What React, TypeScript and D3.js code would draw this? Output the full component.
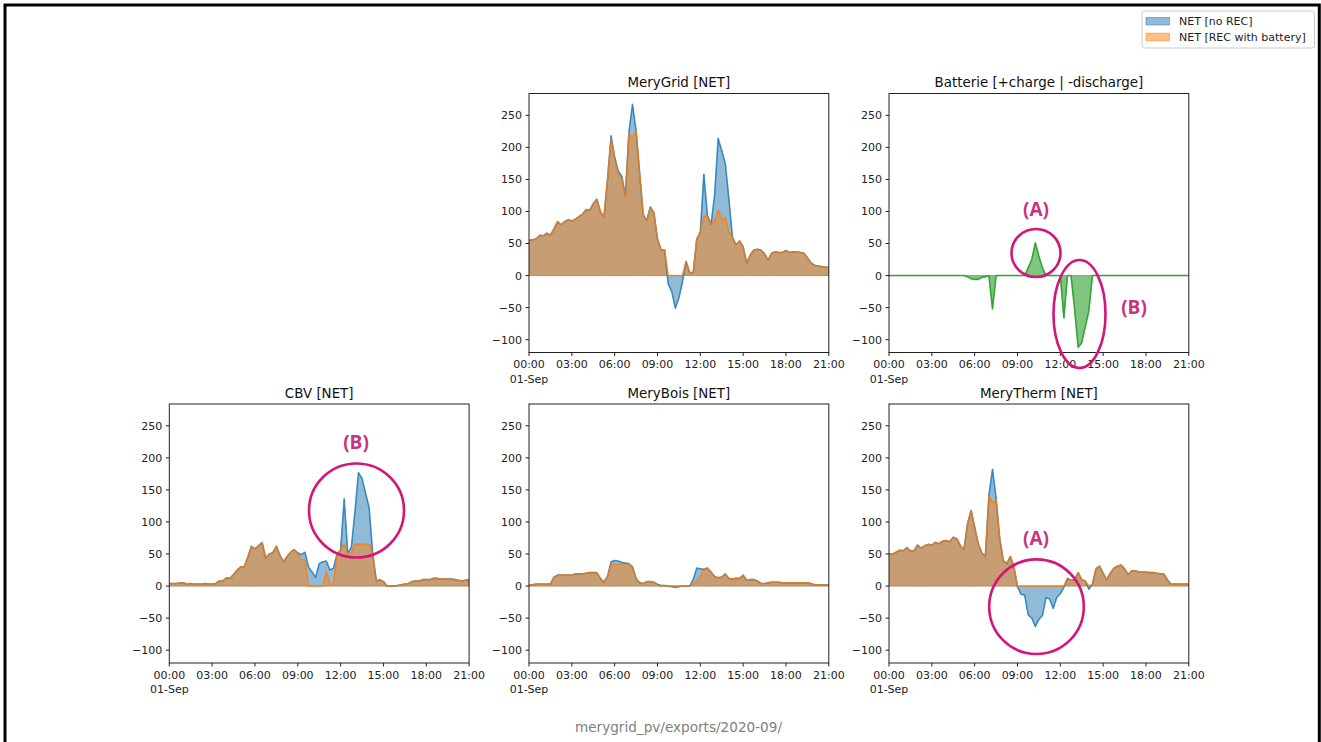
import React from 'react';
import * as d3 from 'd3';

// 15-minute samples, 01-Sep 00:00 .. 21:00
const times = d3.range(85).map((i) => new Date(Date.UTC(2020, 8, 1, 0, i * 15)));

const gridNoRec = [
  55, 56, 57, 63, 62, 66, 63, 73, 84, 79, 84, 87,
  85, 88, 92, 96, 103, 102, 112, 119, 100, 91, 150, 218,
  185, 163, 155, 125, 224, 267, 226, 160, 95, 86, 107, 98,
  57, 40, 40, -13, -25, -51, -35, -10, 22, 5, 4, 57,
  68, 158, 94, 80, 125, 214, 195, 175, 120, 60, 48, 54,
  45, 19, 32, 40, 41, 40, 34, 24, 35, 37, 36, 36,
  39, 36, 37, 37, 36, 35, 28, 20, 16, 15, 14, 13,
  13,
];
const gridRec = [
  55, 56, 57, 63, 62, 66, 63, 73, 84, 79, 84, 87,
  85, 88, 92, 96, 103, 102, 112, 119, 100, 91, 150, 213,
  180, 158, 150, 122, 222, 215, 226, 160, 95, 86, 107, 98,
  57, 40, 40, 0, 0, 0, 0, 0, 22, 5, 4, 57,
  68, 92, 93, 80, 85, 102, 88, 91, 68, 60, 48, 54,
  45, 19, 32, 40, 41, 40, 34, 24, 35, 37, 36, 36,
  39, 36, 37, 37, 36, 35, 28, 20, 16, 15, 14, 13,
  13,
];
const battery = [
  0, 0, 0, 0, 0, 0, 0, 0, 0, 0, 0, 0,
  0, 0, 0, 0, 0, 0, 0, 0, 0, 0, -2, -5,
  -6, -6, -3, -2, 0, -52, 0, 0, 0, 0, 0, 0,
  0, 0, 0, 12, 25, 51, 30, 12, 0, 0, 0, 0,
  0, -66, 0, 0, -52, -112, -105, -80, -55, 0, 0, 0,
  0, 0, 0, 0, 0, 0, 0, 0, 0, 0, 0, 0,
  0, 0, 0, 0, 0, 0, 0, 0, 0, 0, 0, 0,
  0,
];
const cbvNoRec = [
  4, 4, 4, 5, 5, 3, 4, 3, 3, 3, 4, 3,
  3, 4, 8, 8, 13, 12, 18, 25, 30, 30, 45, 62,
  58, 63, 68, 44, 50, 52, 62, 48, 38, 46, 53, 57,
  52, 49, 53, 30, 22, 14, 35, 38, 39, 25, 28, 50,
  56, 136, 52, 60, 115, 177, 168, 145, 122, 50, 8, 10,
  7, 0, 0, 0, 1, 2, 3, 4, 7, 8, 8, 10,
  10, 10, 12, 12, 11, 11, 11, 11, 10, 9, 8, 9,
  10,
];
const cbvRec = [
  4, 4, 4, 5, 5, 3, 4, 3, 3, 3, 4, 3,
  3, 4, 8, 8, 13, 12, 18, 25, 30, 30, 45, 62,
  58, 63, 68, 44, 50, 52, 62, 48, 38, 46, 53, 57,
  50, 41, 41, 0, 0, 0, 0, 0, 23, 3, 3, 50,
  56, 66, 50, 52, 65, 65, 65, 65, 65, 50, 8, 10,
  7, 0, 0, 0, 1, 2, 3, 4, 7, 8, 8, 10,
  10, 10, 12, 12, 11, 11, 11, 11, 10, 9, 8, 9,
  10,
];
const boisNoRec = [
  2, 2, 3, 3, 3, 3, 3, 14, 17, 17, 17, 17,
  17, 19, 19, 19, 20, 21, 21, 21, 12, 6, 15, 38,
  40, 39, 37, 36, 35, 30, 12, 5, 4, 7, 7, 6,
  3, 1, 1, 0, -1, -2, -1, 0, 0, 0, 10, 28,
  27, 26, 28, 22, 15, 13, 14, 19, 12, 11, 12, 12,
  17, 9, 10, 10, 8, 4, 4, 5, 6, 6, 6, 5,
  5, 5, 5, 5, 5, 5, 5, 4, 2, 2, 2, 2,
  2,
];
const boisRec = [
  2, 2, 3, 3, 3, 3, 3, 14, 17, 17, 17, 17,
  17, 19, 19, 19, 20, 21, 21, 21, 12, 6, 15, 34,
  34, 34, 34, 34, 34, 30, 12, 5, 4, 7, 7, 6,
  1, 0, 0, 0, 0, 0, 0, 0, 0, 0, 3, 8,
  15, 26, 28, 22, 15, 13, 14, 19, 12, 11, 12, 12,
  17, 9, 10, 10, 8, 4, 4, 5, 6, 6, 6, 5,
  5, 5, 5, 5, 5, 5, 5, 4, 2, 2, 2, 2,
  2,
];
const thermNoRec = [
  50, 50, 53, 56, 55, 60, 55, 55, 64, 59, 63, 65,
  64, 68, 66, 70, 71, 69, 76, 74, 63, 57, 97, 118,
  92, 66, 52, 46, 142, 182, 138, 75, 40, 35, 46, 30,
  -1, -13, -14, -45, -50, -63, -52, -46, -18, -20, -35, -18,
  -12, -2, 12, 9, 10, 21, 10, 8, -5, 3, 27, 31,
  20, 10, 20, 28, 31, 33, 27, 18, 24, 24, 22, 22,
  22, 21, 21, 20, 19, 19, 10, 3, 3, 3, 3, 3,
  3,
];
const thermRec = [
  50, 50, 53, 56, 55, 60, 55, 55, 64, 59, 63, 65,
  64, 68, 66, 70, 71, 69, 76, 74, 63, 57, 97, 118,
  92, 66, 52, 46, 140, 130, 135, 75, 40, 35, 46, 30,
  0, 0, 0, 0, 0, 0, 0, 0, 0, 0, 0, 0,
  0, 0, 12, 9, 10, 21, 10, 8, 0, 3, 27, 31,
  20, 10, 20, 28, 31, 33, 27, 18, 24, 24, 22, 22,
  22, 21, 21, 20, 19, 19, 10, 3, 3, 3, 3, 3,
  3,
];

const yTicks = [-100, -50, 0, 50, 100, 150, 200, 250];
const xTickHours = [0, 3, 6, 9, 12, 15, 18, 21];
const legendLabels = ['NET [no REC]', 'NET [REC with battery]'];

const BLUE = '#1f77b4';
const ORANGE = '#ff7f0e';
const GREEN = '#2ca02c';
const MAG = '#d4157a';
const MAG_TXT = '#c5367f';
const FONT = '"DejaVu Sans", Verdana, sans-serif';

const COLS = [169.3, 529, 889];
const ROWS = [93.5, 404];
const PW = 299.8;
const PH = 259;

type Series = { values: number[]; color: string; fillOpacity: number; lineOpacity: number };

type PanelDef = { title: string; col: number; row: number; series: Series[] };

const panels: PanelDef[] = [
  {
    title: 'MeryGrid [NET]', col: 1, row: 0,
    series: [
      { values: gridNoRec, color: BLUE, fillOpacity: 0.5, lineOpacity: 0.7 },
      { values: gridRec, color: ORANGE, fillOpacity: 0.5, lineOpacity: 0.7 },
    ],
  },
  {
    title: 'Batterie [+charge | -discharge]', col: 2, row: 0,
    series: [{ values: battery, color: GREEN, fillOpacity: 0.6, lineOpacity: 0.85 }],
  },
  {
    title: 'CBV [NET]', col: 0, row: 1,
    series: [
      { values: cbvNoRec, color: BLUE, fillOpacity: 0.5, lineOpacity: 0.7 },
      { values: cbvRec, color: ORANGE, fillOpacity: 0.5, lineOpacity: 0.7 },
    ],
  },
  {
    title: 'MeryBois [NET]', col: 1, row: 1,
    series: [
      { values: boisNoRec, color: BLUE, fillOpacity: 0.5, lineOpacity: 0.7 },
      { values: boisRec, color: ORANGE, fillOpacity: 0.5, lineOpacity: 0.7 },
    ],
  },
  {
    title: 'MeryTherm [NET]', col: 2, row: 1,
    series: [
      { values: thermNoRec, color: BLUE, fillOpacity: 0.5, lineOpacity: 0.7 },
      { values: thermRec, color: ORANGE, fillOpacity: 0.5, lineOpacity: 0.7 },
    ],
  },
];

function Panel({ def, idx }: { def: PanelDef; idx: number }) {
  const x0 = COLS[def.col];
  const y0 = ROWS[def.row];
  const x = d3.scaleUtc().domain([times[0], times[times.length - 1]]).range([x0, x0 + PW]);
  const y = d3.scaleLinear().domain([-120, 284]).range([y0 + PH, y0]);
  const area = d3
    .area<number>()
    .x((_, i) => x(times[i]))
    .y0(y(0))
    .y1((v) => y(v));
  const line = d3
    .line<number>()
    .x((_, i) => x(times[i]))
    .y((v) => y(v));
  const clipId = `clip${idx}`;
  const fmt = d3.utcFormat('%H:%M');
  return (
    <g>
      <defs>
        <clipPath id={clipId}>
          <rect x={x0} y={y0} width={PW} height={PH} />
        </clipPath>
      </defs>
      <g clipPath={`url(#${clipId})`}>
        {def.series.map((s, k) => (
          <path
            key={'a' + k}
            d={area(s.values) || ''}
            fill={s.color}
            fillOpacity={s.fillOpacity}
            stroke={s.color}
            strokeOpacity={s.fillOpacity}
            strokeWidth={1}
          />
        ))}
        {def.series.map((s, k) => (
          <path
            key={'l' + k}
            d={line(s.values) || ''}
            fill="none"
            stroke={s.color}
            strokeOpacity={s.lineOpacity}
            strokeWidth={1.6}
            strokeLinejoin="round"
          />
        ))}
      </g>
      <rect x={x0} y={y0} width={PW} height={PH} fill="none" stroke="#222" strokeWidth={1} />
      {yTicks.map((t) => (
        <g key={'y' + t}>
          <line x1={x0 - 3.5} x2={x0} y1={y(t)} y2={y(t)} stroke="#222" strokeWidth={1} />
          <text x={x0 - 7} y={y(t)} dy="0.36em" textAnchor="end" fontSize={11} fill="#222" fontFamily={FONT}>
            {t < 0 ? '\u2212' + Math.abs(t) : String(t)}
          </text>
        </g>
      ))}
      {xTickHours.map((h) => {
        const d = new Date(Date.UTC(2020, 8, 1, h));
        const xp = x(d);
        return (
          <g key={'x' + h}>
            <line x1={xp} x2={xp} y1={y0 + PH} y2={y0 + PH + 3.5} stroke="#222" strokeWidth={1} />
            <text x={xp} y={y0 + PH + 15.5} textAnchor="middle" fontSize={11} fill="#222" fontFamily={FONT}>
              {fmt(d)}
            </text>
            {h === 0 && (
              <text x={xp} y={y0 + PH + 30} textAnchor="middle" fontSize={11} fill="#222" fontFamily={FONT}>
                {d3.utcFormat('%d-%b')(d)}
              </text>
            )}
          </g>
        );
      })}
      <text x={x0 + PW / 2} y={y0 - 6.5} textAnchor="middle" fontSize={13.4} fill="#111" fontFamily={FONT}>
        {def.title}
      </text>
    </g>
  );
}

function Annot({ cx, cy, rx, ry }: { cx: number; cy: number; rx: number; ry: number }) {
  return <ellipse cx={cx} cy={cy} rx={rx} ry={ry} fill="none" stroke={MAG} strokeWidth={2.6} />;
}

function Label({ x, y, t }: { x: number; y: number; t: string }) {
  return (
    <text x={x} y={y} dy="0.35em" textAnchor="middle" fontSize={19} fontWeight={700} fill={MAG_TXT} fontFamily='"Open Sans", "Noto Sans", sans-serif'>
      {t}
    </text>
  );
}

export default function App() {
  const W = 1321;
  const H = 742;
  const legendColors = [BLUE, ORANGE];
  return (
    <svg width={W} height={H} style={{ position: 'absolute', left: 0, top: 0, display: 'block', background: '#fff' }}>
      <rect x={0} y={0} width={W} height={H} fill="#fff" />
      {panels.map((p, i) => (
        <Panel key={p.title} def={p} idx={i} />
      ))}
      {/* annotations */}
      <Annot cx={1036} cy={253} rx={24.5} ry={24} />
      <Label x={1036} y={209} t="(A)" />
      <Annot cx={1079.5} cy={314} rx={26} ry={54} />
      <Label x={1134} y={307} t="(B)" />
      <Annot cx={356.5} cy={510.5} rx={47.5} ry={47} />
      <Label x={356} y={442} t="(B)" />
      <Annot cx={1036.5} cy={606.7} rx={47.3} ry={47.3} />
      <Label x={1036} y={538} t="(A)" />
      {/* legend */}
      <rect x={1142} y={11} width={172.5} height={37} rx={2.5} fill="#fff" fillOpacity={0.8} stroke="#cccccc" strokeWidth={1} />
      {legendLabels.map((l, i) => (
        <g key={l}>
          <rect x={1146} y={17.5 + i * 15.7} width={23.5} height={7.5} fill={legendColors[i]} fillOpacity={0.5} stroke={legendColors[i]} strokeOpacity={0.5} strokeWidth={1} />
          <text x={1179} y={25 + i * 15.7} fontSize={11} fill="#222" fontFamily={FONT}>
            {l}
          </text>
        </g>
      ))}
      <text x={678.5} y={732} textAnchor="middle" fontSize={13.6} fill="#808080" fontFamily={FONT}>
        merygrid_pv/exports/2020-09/
      </text>
      <rect x={5} y={5} width={1314.3} height={800} fill="none" stroke="#000" strokeWidth={3} />
    </svg>
  );
}
